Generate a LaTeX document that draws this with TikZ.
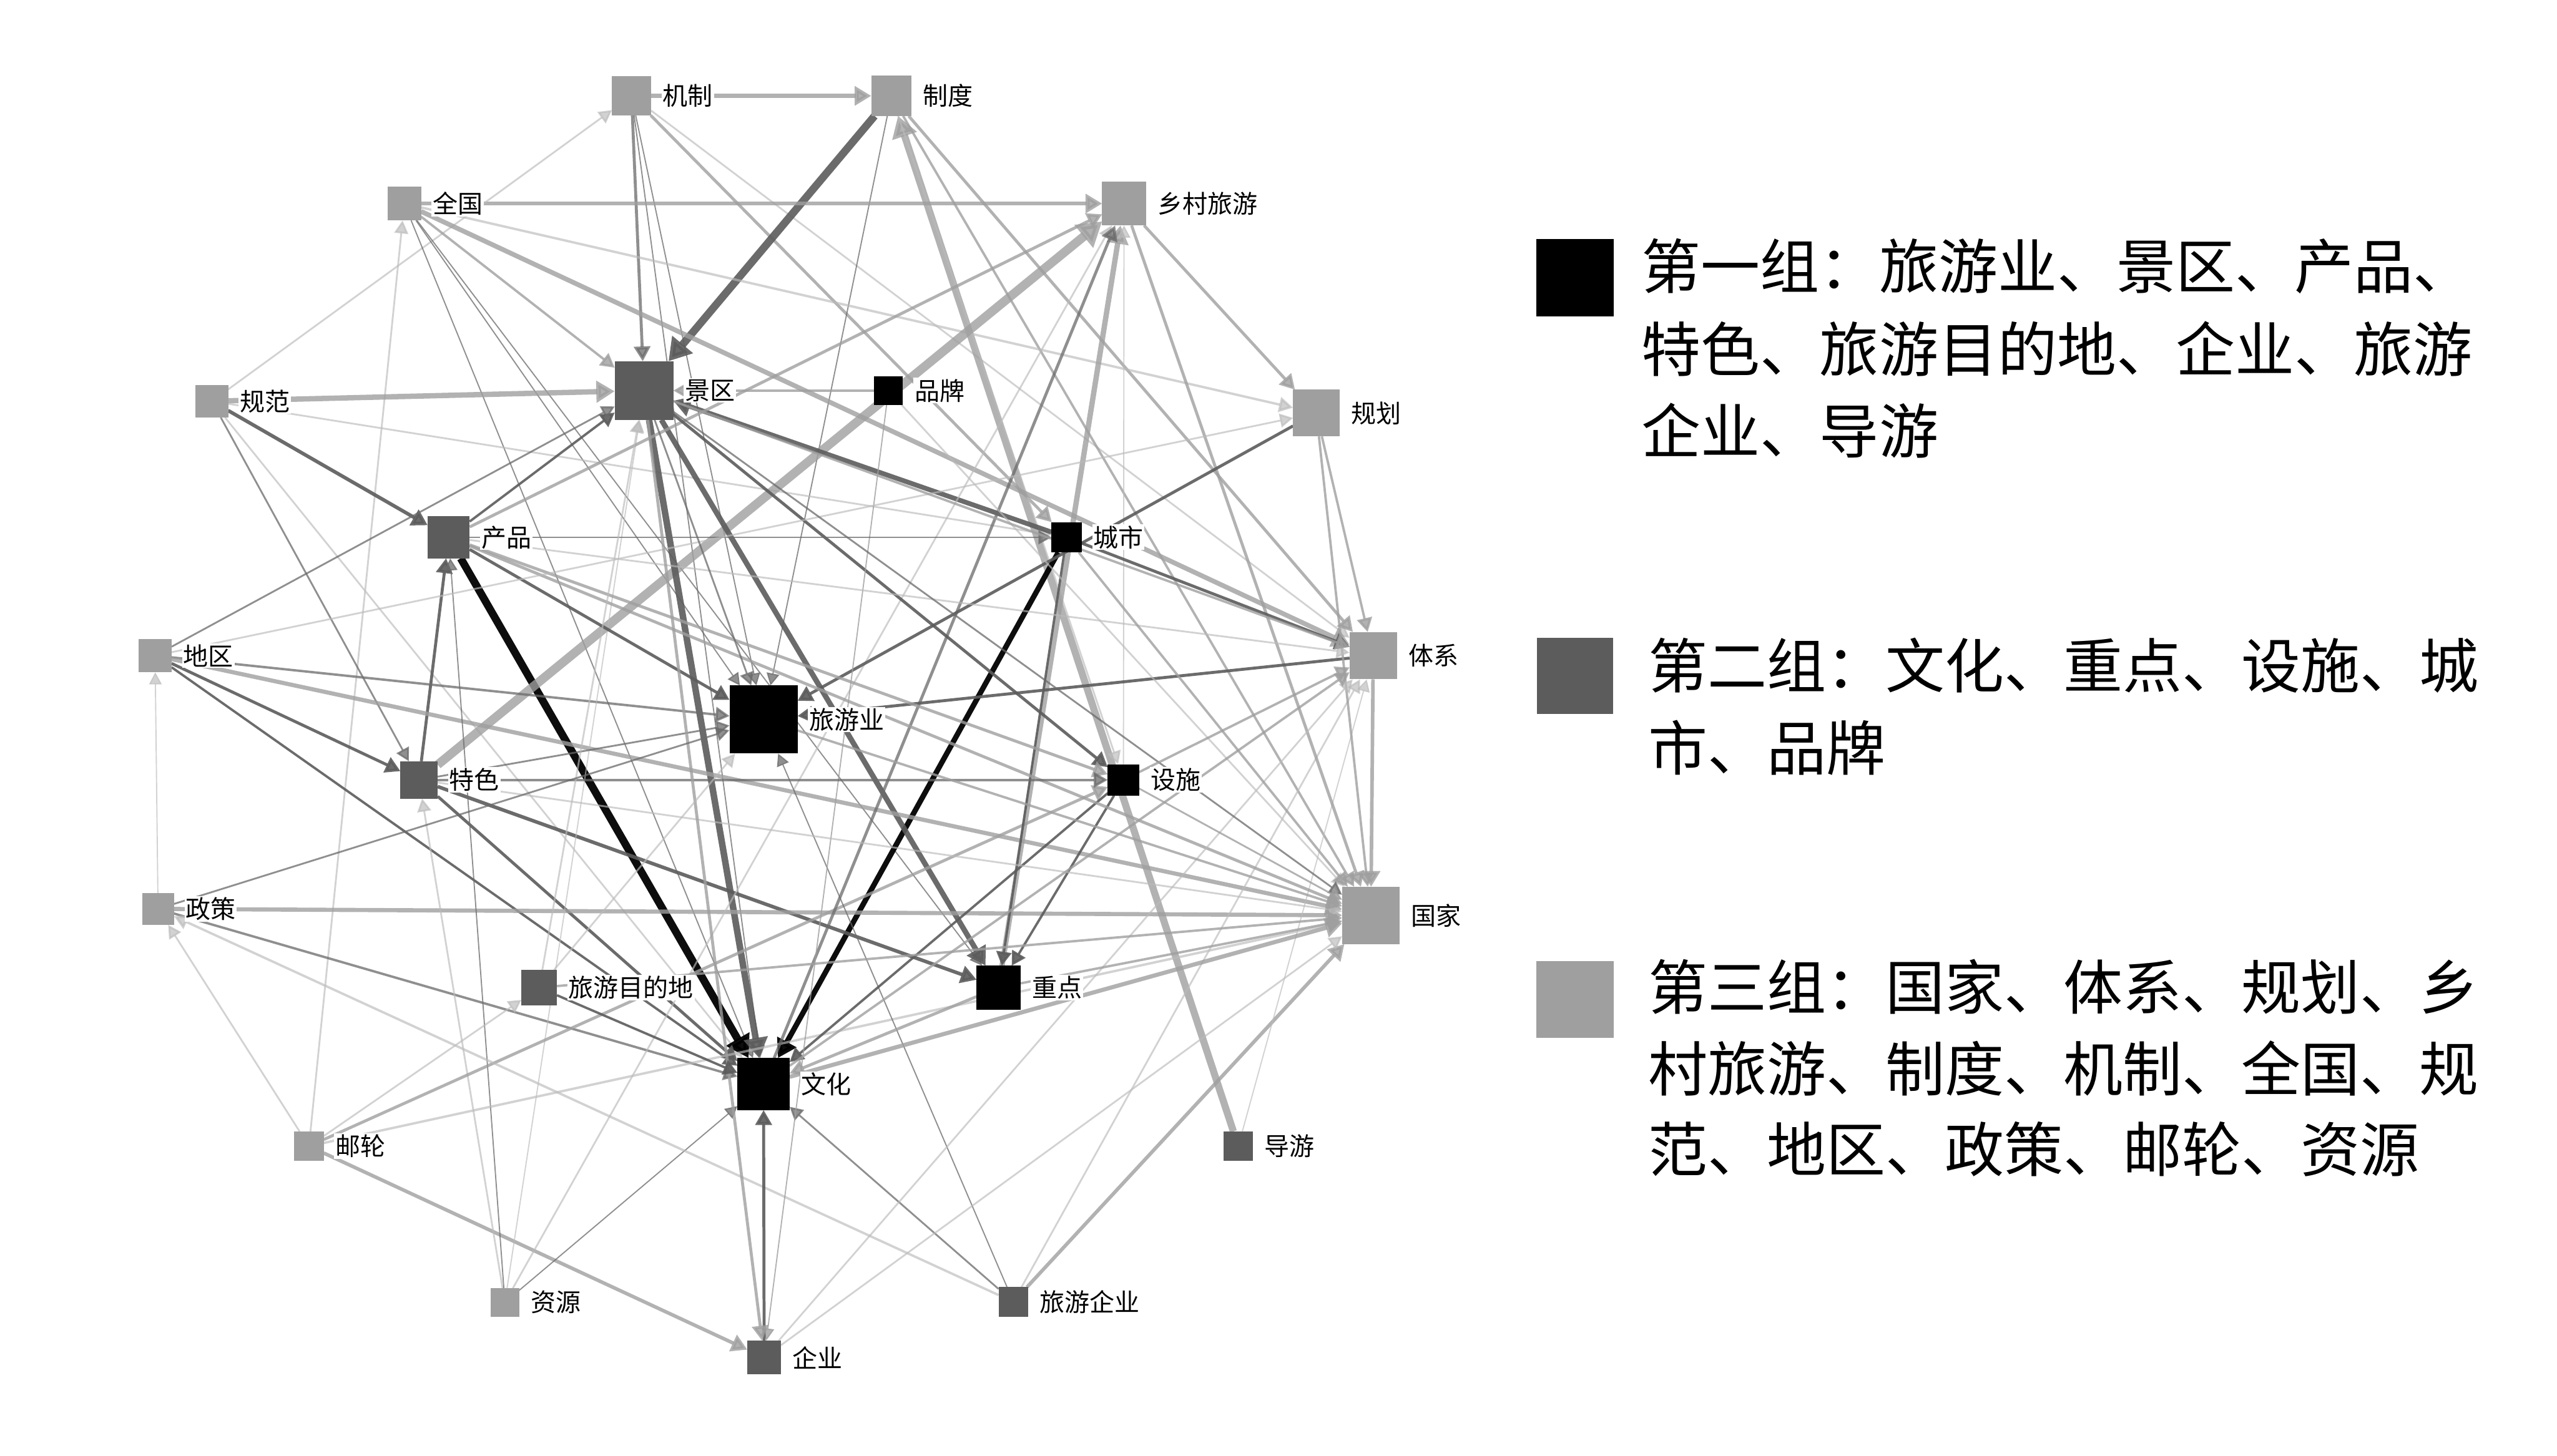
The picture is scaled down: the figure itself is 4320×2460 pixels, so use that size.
\documentclass[tikz,border=0pt]{standalone}
\usepackage{fontspec}
\newfontfamily\cjk{Noto Sans CJK SC}
\usetikzlibrary{arrows.meta}
\pgfdeclarelayer{bg}
\pgfsetlayers{bg,main}
\definecolor{cDG}{HTML}{5C5C5C}
\definecolor{cLG}{HTML}{9F9F9F}
\definecolor{cG}{HTML}{6A6A6A}
\definecolor{cVL}{HTML}{BBBBBB}
\tikzset{
  box/.style={rectangle, draw=none, inner sep=0pt, outer sep=0pt},
  lab/.style={fill=white, inner sep=0.02cm, anchor=west, font=\cjk\fontsize{12pt}{14pt}\selectfont},
  leg/.style={inner sep=0pt, anchor=west, font=\cjk\fontsize{28.5pt}{34pt}\selectfont},
  edge/.style={-{Triangle[length=5pt 1.5, width=5pt 2]}},
  eBK/.style={edge, draw=black, opacity=0.95},
  eDG/.style={edge, draw=cDG, opacity=0.9},
  eG/.style={edge, draw=cG, opacity=0.75},
  eLG/.style={edge, draw=cLG, opacity=0.8},
  eVL/.style={edge, draw=cVL, opacity=0.65}
}
\newcommand{\kw}[6]{%
  \node[box, fill=#4, minimum size=#5*0.01cm] (#1) at (#2,#3) {};
  \node[lab] (#1l) at ([xshift=0.17cm]#1.east) {#6};}
\newcommand{\edg}[4]{\draw[#3, line width=#4*0.01cm] (#1) -- (#2);}
\begin{document}
\begin{tikzpicture}[x=0.01cm, y=-0.01cm]
\useasboundingbox (0,0) rectangle (4320,2460);
\begin{pgfonlayer}{bg}
\fill[white] (0,0) rectangle (4320,2460);
\end{pgfonlayer}
% nodes
\kw{jz}{1067}{162}{cLG}{66}{机制}
\kw{zd}{1506}{162}{cLG}{68}{制度}
\kw{qg}{683}{344}{cLG}{57}{全国}
\kw{xc}{1899}{344}{cLG}{74}{乡村旅游}
\kw{gf}{358}{678}{cLG}{55}{规范}
\kw{jq}{1088}{660}{cDG}{99}{景区}
\kw{pp}{1501}{660}{black}{49}{品牌}
\kw{gh}{2224}{698}{cLG}{79}{规划}
\kw{cp}{758}{908}{cDG}{71}{产品}
\kw{cs}{1802}{908}{black}{51}{城市}
\kw{dq}{262}{1108}{cLG}{56}{地区}
\kw{ly}{1290}{1216}{black}{115}{旅游业}
\kw{tx}{2320}{1108}{cLG}{80}{体系}
\kw{ts}{708}{1318}{cDG}{63}{特色}
\kw{ss}{1898}{1318}{black}{53}{设施}
\kw{zc}{267}{1536}{cLG}{54}{政策}
\kw{gj}{2316}{1547}{cLG}{97}{国家}
\kw{md}{911}{1669}{cDG}{60}{旅游目的地}
\kw{zp}{1687}{1669}{black}{74}{重点}
\kw{wh}{1290}{1832}{black}{88}{文化}
\kw{yl}{522}{1937}{cLG}{50}{邮轮}
\kw{dy}{2092}{1937}{cDG}{50}{导游}
\kw{zy}{853}{2201}{cLG}{48}{资源}
\kw{lq}{1712}{2200}{cDG}{50}{旅游企业}
\kw{qy}{1291}{2294}{cDG}{57}{企业}
% edges
\begin{pgfonlayer}{bg}
\edg{jz}{zd}{eLG}{7}
\edg{jz}{jq}{eG}{5}
\edg{jz}{ly}{eG}{2}
\edg{jz}{wh}{eG}{2}
\edg{jz}{cs}{eLG}{5}
\edg{jz}{tx}{eVL}{3}
\edg{zd}{jq}{eDG}{13}
\edg{dy}{zd}{eLG}{12}
\edg{zd}{ly}{eG}{2}
\edg{zd}{tx}{eLG}{5}
\edg{zd}{ss}{eVL}{3}
\edg{zd}{gj}{eLG}{4}
\edg{qg}{xc}{eLG}{7}
\edg{gf}{jz}{eVL}{3}
\edg{yl}{qg}{eVL}{3}
\edg{qg}{jq}{eLG}{4}
\edg{qg}{tx}{eLG}{8}
\edg{qg}{gh}{eVL}{4}
\edg{qg}{wh}{eG}{2}
\edg{qg}{ly}{eG}{2}
\edg{qg}{zp}{eG}{2}
\edg{gf}{jq}{eLG}{9}
\edg{gf}{cp}{eDG}{6}
\edg{gf}{cs}{eVL}{3}
\edg{gf}{ts}{eG}{3}
\edg{gf}{wh}{eVL}{3}
\edg{cp}{wh}{eBK}{13}
\edg{cs}{wh}{eBK}{9}
\edg{ts}{xc}{eLG}{15}
\edg{jq}{wh}{eDG}{11}
\edg{jq}{zp}{eDG}{9}
\edg{cs}{jq}{eDG}{8}
\edg{ts}{cp}{eDG}{5}
\edg{ts}{wh}{eDG}{5}
\edg{ts}{zp}{eDG}{6}
\edg{dq}{ts}{eDG}{5}
\edg{dq}{ly}{eG}{4}
\edg{dq}{gj}{eLG}{7}
\edg{dq}{wh}{eDG}{4}
\edg{zc}{gj}{eLG}{7}
\edg{zc}{wh}{eG}{4}
\edg{yl}{qy}{eLG}{6}
\edg{zy}{wh}{eG}{2}
\edg{zy}{ts}{eVL}{3}
\edg{zy}{cp}{eG}{2}
\edg{zy}{jq}{eVL}{2}
\edg{zy}{xc}{eVL}{3}
\edg{yl}{zc}{eVL}{3}
\edg{yl}{md}{eVL}{3}
\edg{yl}{ss}{eLG}{5}
\edg{yl}{gj}{eVL}{4}
\edg{lq}{wh}{eG}{3}
\edg{lq}{ly}{eG}{2}
\edg{lq}{tx}{eVL}{3}
\edg{lq}{gj}{eLG}{6}
\edg{lq}{zc}{eVL}{4}
\edg{dy}{tx}{eVL}{2}
\edg{zp}{xc}{eLG}{9}
\edg{wh}{xc}{eG}{5}
\edg{ss}{xc}{eVL}{2}
\edg{xc}{gj}{eLG}{5}
\edg{xc}{gh}{eLG}{5}
\edg{cp}{xc}{eLG}{5}
\edg{cs}{tx}{eDG}{5}
\edg{cs}{zp}{eDG}{4}
\edg{ss}{zp}{eDG}{4}
\edg{ss}{wh}{eDG}{4}
\edg{gh}{ly}{eDG}{5}
\edg{tx}{ly}{eDG}{5}
\edg{tx}{gj}{eLG}{6}
\edg{gh}{tx}{eLG}{4}
\edg{gh}{gj}{eLG}{4}
\edg{jq}{ss}{eDG}{5}
\edg{pp}{jq}{eLG}{4}
\edg{pp}{qy}{eLG}{2}
\edg{pp}{gj}{eVL}{3}
\edg{cp}{ly}{eDG}{5}
\edg{cp}{cs}{eG}{3}
\edg{cp}{ss}{eLG}{5}
\edg{cp}{gj}{eLG}{5}
\edg{cp}{jq}{eDG}{4}
\edg{cp}{tx}{eVL}{3}
\edg{dq}{jq}{eG}{3}
\edg{dq}{gh}{eVL}{3}
\edg{ts}{ss}{eG}{4}
\edg{ts}{ly}{eG}{3}
\edg{ts}{gj}{eVL}{3}
\edg{qy}{wh}{eDG}{5}
\edg{jq}{qy}{eLG}{5}
\edg{qy}{gj}{eVL}{3}
\edg{qy}{tx}{eVL}{3}
\edg{md}{wh}{eDG}{4}
\edg{md}{gj}{eLG}{4}
\edg{md}{jq}{eVL}{3}
\edg{md}{ly}{eVL}{3}
\edg{wh}{gj}{eLG}{7}
\edg{zp}{wh}{eLG}{5}
\edg{zp}{gj}{eLG}{4}
\edg{wh}{tx}{eLG}{4}
\edg{zc}{ly}{eG}{3}
\edg{zc}{dq}{eVL}{2}
\edg{cs}{gj}{eLG}{4}
\edg{jq}{gj}{eG}{3}
\edg{jq}{ly}{eG}{3}
\edg{jq}{tx}{eLG}{4}
\edg{ly}{gj}{eLG}{4}
\edg{ss}{tx}{eLG}{4}
\edg{ss}{gj}{eLG}{3}
\end{pgfonlayer}
% legend
\node[box, fill=black, minimum size=1.31cm] (sq1) at (2661,469) {};
\node[box, fill=cDG, minimum size=1.29cm] (sq2) at (2661,1142) {};
\node[box, fill=cLG, minimum size=1.30cm] (sq3) at (2661,1689) {};
\node[leg] (g1a) at (2773,450) {第一组：旅游业、景区、产品、};
\node[leg] (g1b) at (2773,589) {特色、旅游目的地、企业、旅游};
\node[leg] (g1c) at (2773,728) {企业、导游};
\node[leg] (g2a) at (2784,1125) {第二组：文化、重点、设施、城};
\node[leg] (g2b) at (2784,1264) {市、品牌};
\node[leg] (g3a) at (2784,1668) {第三组：国家、体系、规划、乡};
\node[leg] (g3b) at (2784,1805) {村旅游、制度、机制、全国、规};
\node[leg] (g3c) at (2784,1942) {范、地区、政策、邮轮、资源};
\end{tikzpicture}
\end{document}
